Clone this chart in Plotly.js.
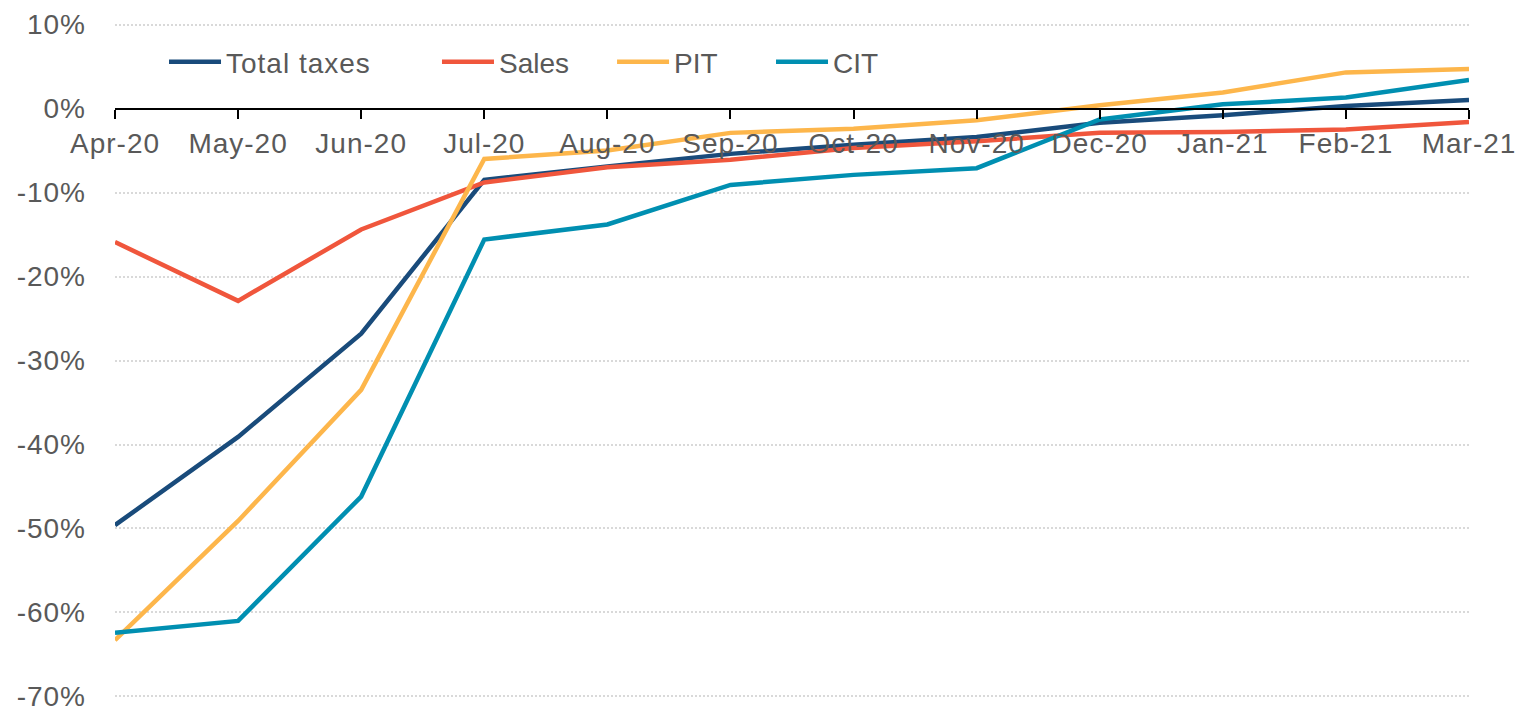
<!DOCTYPE html>
<html>
<head>
<meta charset="utf-8">
<script src="https://cdn.plot.ly/plotly-3.0.1.min.js"></script>
<style>
  html, body { margin: 0; padding: 0; background: #fff; }
  #chart { width: 1519px; height: 712px; }
  .xtick text, .ytick text, .legendtext { letter-spacing: 1px; }
</style>
</head>
<body>
<div id="chart"></div>
<script>
const months = ["Apr-20","May-20","Jun-20","Jul-20","Aug-20","Sep-20","Oct-20","Nov-20","Dec-20","Jan-21","Feb-21","Mar-21"];
const totalTaxes = [-49.6, -39.1, -26.8, -8.5, -6.9, -5.4, -4.3, -3.4, -1.7, -0.8, 0.3, 1.0];
const sales      = [-15.9, -22.9, -14.4, -8.8, -7.0, -6.1, -4.7, -3.9, -2.9, -2.8, -2.5, -1.6];
const pit        = [-63.3, -49.1, -33.5, -6.0, -5.0, -2.9, -2.4, -1.4, 0.4, 1.9, 4.3, 4.7];
const cit        = [-62.4, -61.0, -46.2, -15.6, -13.8, -9.1, -7.9, -7.1, -1.3, 0.5, 1.3, 3.4];
const yTickVals  = [10, 0, -10, -20, -30, -40, -50, -60, -70];
const yTickText  = ["10%", "0%", "-10%", "-20%", "-30%", "-40%", "-50%", "-60%", "-70%"];

const seriesNames  = ["Total taxes", "Sales", "PIT", "CIT"];
const seriesValues = [totalTaxes, sales, pit, cit];
const seriesColors = ["#194B7B", "#F0563C", "#FDB64B", "#008FB1"];
const legendIds    = ["legend", "legend2", "legend3", "legend4"];
const legendX      = [0.0362, 0.2378, 0.3671, 0.4845];

const traces = seriesValues.map((vals, i) => ({
  type: "scatter",
  mode: "lines",
  x: months,
  y: vals,
  name: seriesNames[i],
  legend: legendIds[i],
  line: { color: seriesColors[i], width: 4.5 },
  hoverinfo: "x+y+name"
}));

const fontFamily = "Arial, 'Liberation Sans', Helvetica, sans-serif";
const textColor = "#595959";
const plotHeight = 712 - 22 - 13;

const layout = {
  width: 1519,
  height: 712,
  margin: { l: 115, r: 50, t: 22, b: 13 },
  paper_bgcolor: "#ffffff",
  plot_bgcolor: "#ffffff",
  font: { family: fontFamily, size: 28, color: textColor },
  showlegend: true,
  xaxis: {
    type: "category",
    range: [0, months.length - 1],
    anchor: "free",
    position: 70.3 / 80.6,
    showline: true,
    linecolor: "#000000",
    linewidth: 2,
    ticks: "outside",
    ticklen: 9,
    tickwidth: 2,
    tickcolor: "#000000",
    ticklabelstandoff: 1,
    showgrid: false,
    zeroline: false,
    tickfont: { family: fontFamily, size: 28, color: textColor },
    fixedrange: true
  },
  yaxis: {
    range: [-70.3, 10.3],
    domain: [0, 1],
    tickvals: yTickVals,
    ticktext: yTickText,
    ticks: "",
    showline: false,
    zeroline: false,
    showgrid: true,
    gridcolor: "#D9D9D9",
    gridwidth: 2,
    griddash: "2px,2px",
    ticklabelstandoff: 28,
    ticklabeloverflow: "allow",
    tickfont: { family: fontFamily, size: 28, color: textColor },
    fixedrange: true
  }
};

legendIds.forEach((id, i) => {
  layout[id] = {
    orientation: "h",
    x: legendX[i],
    xanchor: "left",
    y: (plotHeight + 22 - 62) / plotHeight,
    yanchor: "middle",
    itemwidth: 52,
    font: { family: fontFamily, size: 28, color: textColor },
    bgcolor: "rgba(0,0,0,0)",
    borderwidth: 0
  };
});

Plotly.newPlot("chart", traces, layout, { displayModeBar: false, responsive: false });
</script>
</body>
</html>
